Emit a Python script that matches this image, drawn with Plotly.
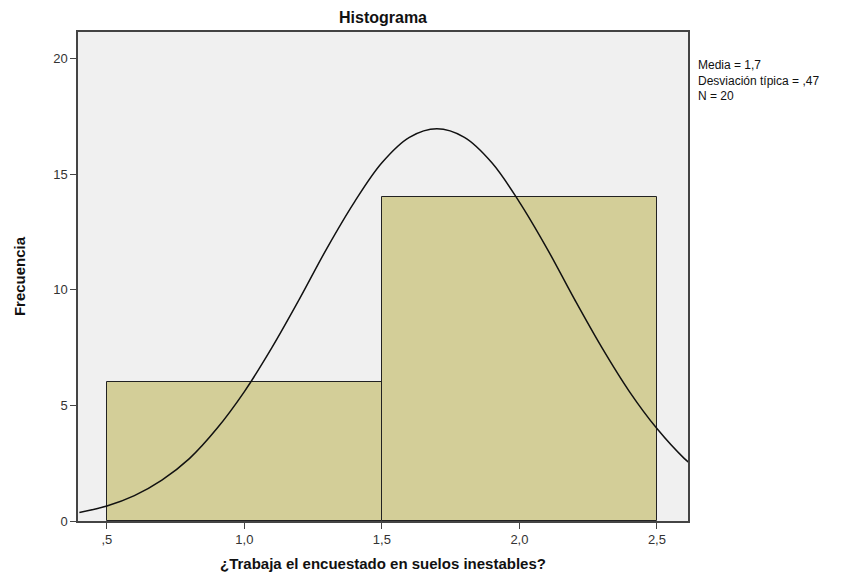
"""
Histograma SPSS: ¿Trabaja el encuestado en suelos inestables? con curva normal.
"""

import plotly.graph_objects as go

# Barras del histograma (anchura de intervalo = 1)
bin_left = [0.5, 1.5]
bin_right = [1.5, 2.5]
frecuencias = [6, 14]

# Curva normal
curva_x = [0.4, 0.5, 0.6, 0.7, 0.8, 0.9, 1.0, 1.1, 1.2, 1.3, 1.4, 1.5,
           1.6, 1.7, 1.8, 1.9, 2.0, 2.1, 2.2, 2.3, 2.4, 2.5, 2.6, 2.62]
curva_y = [0.37, 0.65, 1.1, 1.77, 2.7, 4.0, 5.6, 7.5, 9.6, 11.8, 13.8, 15.5,
           16.6, 16.97, 16.6, 15.5, 13.8, 11.8, 9.6, 7.5, 5.6, 4.0, 2.7, 2.5]

x_ticks = [0.5, 1.0, 1.5, 2.0, 2.5]
x_labels = [",5", "1,0", "1,5", "2,0", "2,5"]
y_ticks = [0, 5, 10, 15, 20]

stats_text = "Media = 1,7<br>Desviación típica = ,47<br>N = 20"

centros = [(a + b) / 2 for a, b in zip(bin_left, bin_right)]
anchos = [b - a for a, b in zip(bin_left, bin_right)]

fig = go.Figure()

fig.add_trace(go.Bar(
    x=centros,
    y=frecuencias,
    width=anchos,
    marker=dict(color="#D3CE98", line=dict(color="#222222", width=1)),
    hoverinfo="y",
))

fig.add_trace(go.Scatter(
    x=curva_x,
    y=curva_y,
    mode="lines",
    line=dict(color="#111111", width=1.5, shape="spline"),
    hoverinfo="skip",
))

fig.add_annotation(
    x=1.0, y=1.0, xref="paper", yref="paper",
    xshift=8, yshift=-24,
    xanchor="left", yanchor="top", align="left",
    text=stats_text, showarrow=False,
    font=dict(family="Liberation Sans, Arial", size=12, color="#111111"),
)

# la página añade 8 px de margen: la zona de trazado va de 70 a 680 px
fig.update_layout(
    width=864,
    height=582,
    margin=dict(l=70, r=184, t=24, b=69),
    title=dict(
        text="<b>Histograma</b>",
        x=375 / 864, xanchor="center",
        y=1 - 4 / 582, yanchor="top",
        font=dict(family="Liberation Sans, Arial", size=16, color="#111111"),
    ),
    plot_bgcolor="#F0F0F0",
    paper_bgcolor="white",
    showlegend=False,
    bargap=0,
    xaxis=dict(
        range=[0.395, 2.613],
        tickvals=x_ticks,
        ticktext=x_labels,
        ticks="outside", ticklen=6, tickcolor="#444444",
        showgrid=False, zeroline=False,
        showline=True, linecolor="#444444", linewidth=1.5, mirror=True,
        tickfont=dict(family="Liberation Sans, Arial", size=13, color="#333333"),
        title=dict(
            text="<b>¿Trabaja el encuestado en suelos inestables?</b>",
            font=dict(family="Liberation Sans, Arial", size=15, color="#111111"),
            standoff=12,
        ),
    ),
    yaxis=dict(
        range=[0, 21.16],
        tickvals=y_ticks,
        ticks="outside", ticklen=6, tickcolor="#444444",
        showgrid=False, zeroline=False,
        showline=True, linecolor="#444444", linewidth=1.5, mirror=True,
        tickfont=dict(family="Liberation Sans, Arial", size=13, color="#333333"),
        title=dict(
            text="<b>Frecuencia</b>",
            font=dict(family="Liberation Sans Narrow, Arial Narrow, Liberation Sans", size=15, color="#111111"),
            standoff=24,
        ),
    ),
)

fig.write_html("out.html")
